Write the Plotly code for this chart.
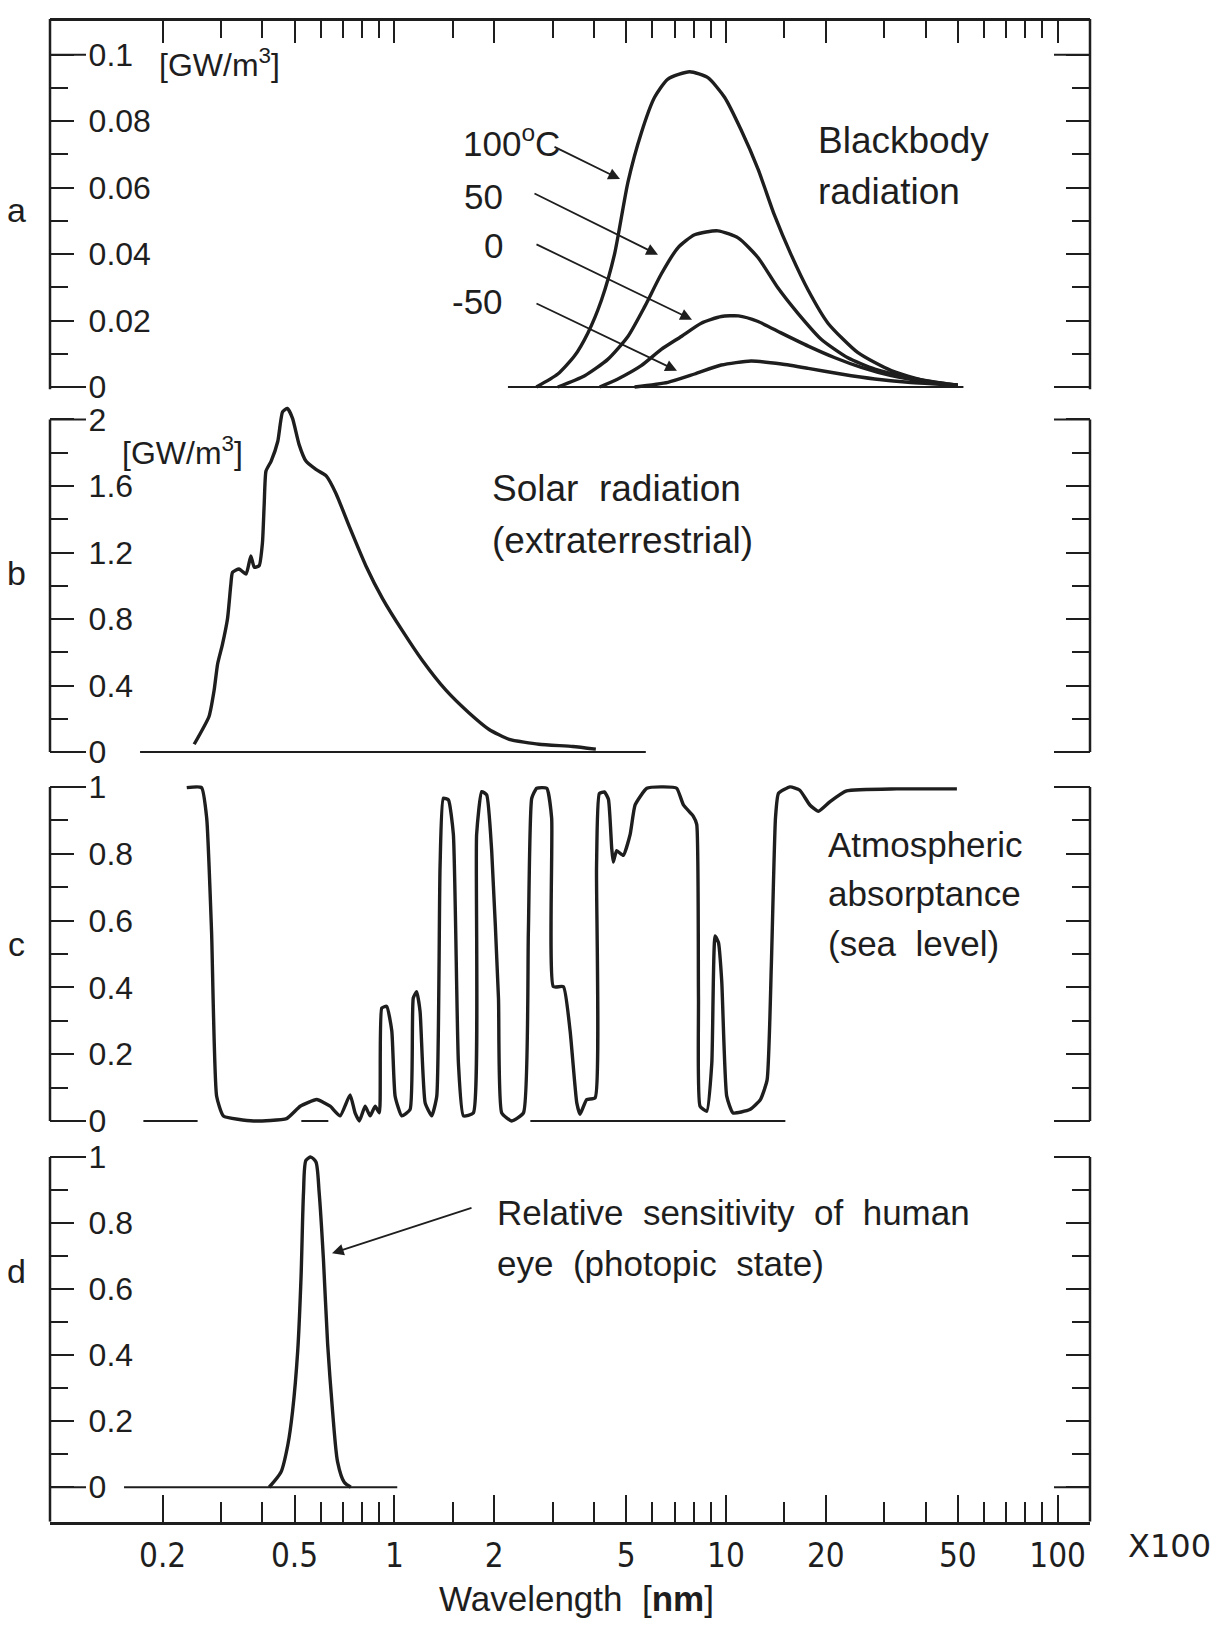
import plotly.graph_objects as go

W, H = 1220, 1633
INK = "#1e1e1e"
FONT = "Liberation Sans, Arial, Helvetica, sans-serif"
NARROW = "Liberation Sans Narrow, DejaVu Sans Condensed, Arial Narrow, Liberation Sans, sans-serif"

# ---------------- data ----------------
# panel a: blackbody radiation [GW/m^3] vs wavelength
bb100_x = [2.68, 3.11, 3.49, 3.83, 4.21, 4.61, 5.06, 5.55, 6.09, 6.68, 7.77, 8.82, 9.90, 11.1, 12.5, 14.0, 15.7, 17.7, 20.3, 25.0, 31.5, 39.7, 50.0]
bb100_y = [0.0, 0.0039, 0.0093, 0.0162, 0.0261, 0.0399, 0.0616, 0.0764, 0.0872, 0.0927, 0.0949, 0.0931, 0.0872, 0.0774, 0.0655, 0.0517, 0.0399, 0.0291, 0.0192, 0.0103, 0.0049, 0.0019, 0.0005]
bb50_x = [3.11, 3.75, 4.40, 5.06, 5.68, 6.38, 7.16, 8.04, 9.45, 10.9, 12.5, 14.3, 16.5, 19.4, 23.3, 28.1, 35.4, 44.6, 50.0]
bb50_y = [0.0, 0.0034, 0.0083, 0.0152, 0.0241, 0.0340, 0.0419, 0.0458, 0.0470, 0.0448, 0.0389, 0.0300, 0.0221, 0.0143, 0.0088, 0.0054, 0.0029, 0.0012, 0.0005]
bb0_x = [4.16, 4.72, 5.55, 6.38, 7.33, 8.42, 9.68, 10.9, 12.5, 14.7, 17.7, 21.3, 25.6, 31.5, 39.7, 50.0]
bb0_y = [0.0, 0.0024, 0.0064, 0.0113, 0.0152, 0.0192, 0.0212, 0.0214, 0.0197, 0.0162, 0.0123, 0.0088, 0.0059, 0.0034, 0.0016, 0.0005]
bbm50_x = [5.3, 6.68, 8.04, 9.68, 11.9, 14.7, 17.7, 22.2, 28.1, 35.4, 50.0]
bbm50_y = [0.0, 0.0014, 0.0039, 0.0066, 0.0078, 0.0069, 0.0056, 0.0039, 0.0024, 0.0014, 0.0005]

# panel b: solar radiation (extraterrestrial) [GW/m^3]
sol_x = [0.249, 0.276, 0.286, 0.293, 0.303, 0.314, 0.321, 0.325, 0.340, 0.357, 0.369, 0.378, 0.391, 0.400, 0.405, 0.410, 0.425, 0.445, 0.460, 0.476, 0.493, 0.516, 0.541, 0.580, 0.622, 0.667, 0.731, 0.82, 0.921, 1.059, 1.216, 1.43, 1.68, 1.93, 2.22, 2.73, 3.45, 4.05]
sol_y = [0.047, 0.214, 0.372, 0.53, 0.648, 0.805, 1.003, 1.081, 1.101, 1.071, 1.18, 1.111, 1.121, 1.258, 1.495, 1.69, 1.75, 1.869, 2.046, 2.066, 2.007, 1.849, 1.75, 1.70, 1.662, 1.554, 1.357, 1.121, 0.923, 0.727, 0.549, 0.372, 0.235, 0.136, 0.077, 0.047, 0.034, 0.018]

# panel c: atmospheric absorptance (sea level)
atm_x = [0.2365, 0.262, 0.2716, 0.281, 0.291, 0.305, 0.376, 0.473, 0.52, 0.583, 0.640, 0.686, 0.735, 0.761, 0.784, 0.816, 0.845, 0.875, 0.901, 0.916, 0.948, 0.982, 1.005, 1.052, 1.115, 1.14, 1.167, 1.195, 1.238, 1.296, 1.342, 1.373, 1.405, 1.455, 1.506, 1.56, 1.615, 1.73, 1.77, 1.834, 1.898, 1.965, 2.06, 2.107, 2.26, 2.45, 2.535, 2.595, 2.687, 2.88, 2.98, 3.016, 3.234, 3.387, 3.548, 3.63, 3.80, 4.03, 4.07, 4.15, 4.30, 4.42, 4.52, 4.57, 4.68, 4.90, 5.14, 5.32, 5.77, 6.48, 7.10, 7.44, 7.97, 8.16, 8.26, 8.35, 8.75, 9.06, 9.27, 9.49, 9.71, 10.05, 10.5, 11.8, 12.7, 13.3, 13.7, 14.1, 14.4, 15.6, 16.7, 17.9, 19.0, 20.6, 23.1, 32.7, 49.7]
atm_y = [0.998, 0.998, 0.907, 0.564, 0.074, 0.015, 0.0, 0.007, 0.044, 0.064, 0.044, 0.015, 0.078, 0.024, 0.0, 0.044, 0.015, 0.044, 0.024, 0.338, 0.343, 0.27, 0.074, 0.015, 0.034, 0.368, 0.387, 0.328, 0.054, 0.015, 0.074, 0.76, 0.966, 0.961, 0.858, 0.172, 0.015, 0.024, 0.858, 0.986, 0.976, 0.809, 0.368, 0.024, 0.0, 0.024, 0.564, 0.966, 0.996, 0.996, 0.907, 0.402, 0.402, 0.27, 0.054, 0.02, 0.064, 0.069, 0.76, 0.98, 0.985, 0.963, 0.819, 0.775, 0.809, 0.795, 0.858, 0.946, 0.996, 1.0, 0.996, 0.946, 0.912, 0.888, 0.368, 0.044, 0.029, 0.172, 0.554, 0.534, 0.417, 0.074, 0.024, 0.034, 0.064, 0.122, 0.466, 0.907, 0.981, 1.0, 0.99, 0.946, 0.927, 0.956, 0.988, 0.994, 0.994]

# panel d: relative sensitivity of human eye (photopic)
eye_x = [0.419, 0.455, 0.477, 0.493, 0.511, 0.523, 0.532, 0.541, 0.56, 0.580, 0.593, 0.611, 0.629, 0.651, 0.674, 0.706, 0.739]
eye_y = [0.0, 0.046, 0.128, 0.23, 0.413, 0.638, 0.893, 0.99, 1.0, 0.985, 0.893, 0.689, 0.434, 0.23, 0.077, 0.015, 0.0]

# zero (baseline) line spans drawn in each panel
zero_a = [(2.2, 52.0)]
zero_b = [(0.171, 5.73)]
zero_c = [(0.175, 0.255), (0.524, 0.632), (2.57, 15.1)]
zero_d = [(0.153, 1.02)]

# axis ticks
x_major = [0.2, 0.5, 1, 2, 5, 10, 20, 50, 100]
x_major_text = ["0.2", "0.5", "1", "2", "5", "10", "20", "50", "100"]
x_minor = [0.3, 0.4, 0.6, 0.7, 0.8, 0.9, 1.5, 3, 4, 6, 7, 8, 9, 15, 30, 40, 60, 70, 80, 90]
ya_major = [0, 0.02, 0.04, 0.06, 0.08, 0.1]
ya_text = ["0", "0.02", "0.04", "0.06", "0.08", "0.1"]
ya_minor = [0.01, 0.03, 0.05, 0.07, 0.09]
yb_major = [0, 0.4, 0.8, 1.2, 1.6, 2]
yb_text = ["0", "0.4", "0.8", "1.2", "1.6", "2"]
yb_minor = [0.2, 0.6, 1.0, 1.4, 1.8]
ycd_major = [0, 0.2, 0.4, 0.6, 0.8, 1]
ycd_text = ["0", "0.2", "0.4", "0.6", "0.8", "1"]
ycd_minor = [0.1, 0.3, 0.5, 0.7, 0.9]

# ---------------- layout geometry (pixels) ----------------
def px(x):
    return x / W

def py(y):
    return 1 - y / H

X0, X1 = 50, 1090
XLOG = [-1.0386, 2.0977]

fig = go.Figure()

def curve(x, y, ax, smooth=0.6, width=3.4):
    fig.add_trace(go.Scatter(x=x, y=y, mode="lines", xaxis="x", yaxis=ax,
                             line=dict(color=INK, width=width, shape="spline", smoothing=smooth),
                             hoverinfo="skip", showlegend=False))

def zero_line(spans, ax):
    xs, ys = [], []
    for a, b in spans:
        xs += [a, b, None]
        ys += [0, 0, None]
    fig.add_trace(go.Scatter(x=xs, y=ys, mode="lines", xaxis="x", yaxis=ax,
                             line=dict(color=INK, width=2), hoverinfo="skip", showlegend=False))

zero_line(zero_a, "y")
for cx, cy in [(bb100_x, bb100_y), (bb50_x, bb50_y), (bb0_x, bb0_y), (bbm50_x, bbm50_y)]:
    curve(cx, cy, "y")
zero_line(zero_b, "y2")
curve(sol_x, sol_y, "y2", smooth=0.5)
zero_line(zero_c, "y3")
curve(atm_x, atm_y, "y3", smooth=0.45)
zero_line(zero_d, "y4")
curve(eye_x, eye_y, "y4", smooth=0.7)
# empty trace so that the top tick axis exists
fig.add_trace(go.Scatter(x=[], y=[], xaxis="x2", yaxis="y", showlegend=False, hoverinfo="skip"))

def yaxis(dom_px, rng, major, text, minor):
    top, bot = dom_px
    return dict(domain=[py(bot), py(top)], range=rng, anchor="x",
                showline=False, showgrid=False, zeroline=False,
                ticks="inside", ticklen=24, tickwidth=2, tickcolor=INK,
                mirror="ticks", tickmode="array", tickvals=major, ticktext=text,
                ticklabelposition="inside", ticklabeloverflow="allow",
                ticklabelstandoff=18,
                tickfont=dict(family=FONT, size=32, color=INK),
                minor=dict(ticks="inside", ticklen=18, tickwidth=2, tickcolor=INK,
                           tickmode="array", tickvals=minor))

# a: 0 at 381.5, 0.1 at 43.5 ; b: 0 at 753, 2 at 414.6 ; c: 0 at 1128.3, 1 at 789 ; d: 0 at 1501, 1 at 1165
ya = yaxis((7, 384), [-0.00074, 0.1108], ya_major, ya_text, ya_minor)
yb = yaxis((397, 756), [-0.0177, 2.104], yb_major, yb_text, yb_minor)
yc = yaxis((783, 1131), [-0.008, 1.016], ycd_major, ycd_text, ycd_minor)
yd = yaxis((1159, 1536), [-0.1042, 1.018], ycd_major, ycd_text, ycd_minor)

xaxis = dict(type="log", range=XLOG, domain=[px(X0), px(X1)], anchor="y4",
             showline=True, linewidth=2.5, linecolor=INK, showgrid=False, zeroline=False,
             ticks="inside", ticklen=27, tickwidth=2, tickcolor=INK,
             tickmode="array", tickvals=x_major, ticktext=x_major_text,
             ticklabelstandoff=3,
             tickfont=dict(family=NARROW, size=33, color=INK),
             minor=dict(ticks="inside", ticklen=20, tickwidth=2, tickcolor=INK,
                        tickmode="array", tickvals=x_minor))
xaxis2 = dict(type="log", range=XLOG, domain=[px(X0), px(X1)], overlaying="x",
              anchor="free", position=py(7), side="top",
              showline=True, linewidth=2.5, linecolor=INK, showgrid=False, zeroline=False,
              ticks="inside", ticklen=22, tickwidth=2, tickcolor=INK,
              tickmode="array", tickvals=x_major, showticklabels=False,
              minor=dict(ticks="inside", ticklen=17, tickwidth=2, tickcolor=INK,
                         tickmode="array", tickvals=x_minor))

# frame brackets: vertical lines of each panel and the long end ticks
shapes = []
LONG = 36
for yref, lo, hi, tlo, thi in [("y", -0.00074, 0.1108, 0, 0.1), ("y2", 0, 2, 0, 2),
                               ("y3", 0, 1, 0, 1), ("y4", -0.1042, 1, 0, 1)]:
    for xe in (px(X0), px(X1)):
        shapes.append(dict(type="line", xref="paper", yref=yref, x0=xe, x1=xe, y0=lo, y1=hi,
                           line=dict(color=INK, width=2.5)))
    for yv in (tlo, thi):
        shapes.append(dict(type="line", xref="paper", yref=yref, x0=px(X0), x1=px(X0 + LONG),
                           y0=yv, y1=yv, line=dict(color=INK, width=2)))
        shapes.append(dict(type="line", xref="paper", yref=yref, x0=px(X1 - LONG), x1=px(X1),
                           y0=yv, y1=yv, line=dict(color=INK, width=2)))

ann = []

def text(s, x, y, size=37, anchor="left", family=FONT):
    ann.append(dict(text=s, x=px(x), y=py(y), xref="paper", yref="paper",
                    xanchor=anchor, yanchor="middle", showarrow=False,
                    font=dict(family=family, size=size, color=INK)))

def arrow(head, tail):
    ann.append(dict(text="", x=px(head[0]), y=py(head[1]), xref="paper", yref="paper",
                    ax=tail[0] - head[0], ay=tail[1] - head[1], showarrow=True,
                    arrowhead=2, arrowsize=1.3, arrowwidth=1.8, arrowcolor=INK, standoff=0))

# panel letters
text("a", 16, 201, 34, "center")
text("b", 16, 571, 34, "center")
text("c", 16, 948, 34, "center")
text("d", 16, 1281, 34, "center")
# units
text("[GW/m<sup>3</sup>]", 157, 52, 32)
text("[GW/m<sup>3</sup>]", 120, 447, 32)
# blackbody labels
text("100<sup>o</sup>C", 562, 131, 35, "right")
text("50", 505, 188, 35, "right")
text("0", 505, 238, 35, "right")
text("-50", 505, 295, 35, "right")
arrow((620, 170), (553, 137))
arrow((658, 247), (533, 185))
arrow((692, 313), (535, 237))
arrow((677, 365), (535, 297))
text("Blackbody", 816, 131)
text("radiation", 816, 183)
text("Solar  radiation", 490, 485)
text("(extraterrestrial)", 490, 538)
text("Atmospheric", 826, 847, 35)
text("absorptance", 826, 897, 35)
text("(sea  level)", 826, 948, 35)
text("Relative  sensitivity  of  human", 495, 1221, 35)
text("eye  (photopic  state)", 495, 1273, 35)
arrow((332, 1263), (473, 1217))
# axis title and handwritten note
text("Wavelength  [<b>nm</b>]", 576, 1614, 35, "center")
text("X100", 1126, 1561, 32, "left", "DejaVu Sans, sans-serif")

fig.update_layout(width=W, height=H, margin=dict(l=0, r=0, t=0, b=0),
                  paper_bgcolor="white", plot_bgcolor="white", showlegend=False,
                  xaxis=xaxis, xaxis2=xaxis2, yaxis=ya, yaxis2=yb, yaxis3=yc, yaxis4=yd,
                  shapes=shapes, annotations=ann)

fig.write_html("out.html")
